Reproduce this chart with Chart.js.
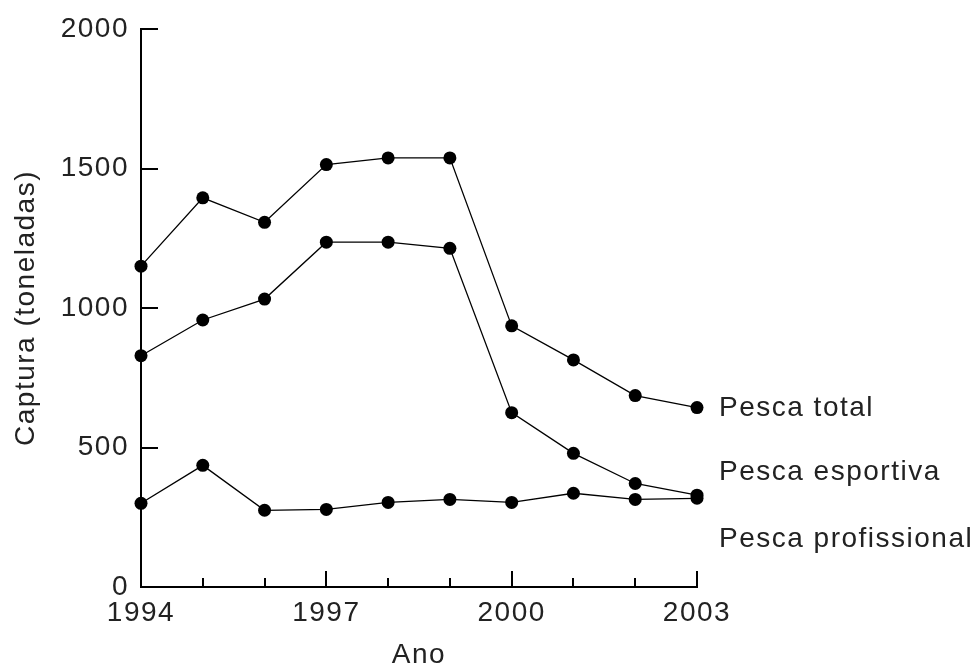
<!DOCTYPE html>
<html>
<head>
<meta charset="utf-8">
<script src="https://cdn.jsdelivr.net/npm/chart.js@4/dist/chart.umd.min.js"></script>
<style>
  html, body { margin: 0; padding: 0; background: #fff; }
  #wrap { width: 979px; height: 670px; }
</style>
</head>
<body>
<div id="wrap"><canvas id="c" width="979" height="670"></canvas></div>
<script>
// ---- data ----
const years = [1994, 1995, 1996, 1997, 1998, 1999, 2000, 2001, 2002, 2003];
const pescaTotal = [1150, 1395, 1307, 1514, 1538, 1538, 936, 814, 686, 643];
const pescaEsportiva = [829, 957, 1032, 1236, 1236, 1214, 625, 479, 371, 329];
const pescaProfissional = [300, 436, 275, 278, 303, 314, 303, 336, 314, 318];
const seriesNames = ['Pesca total', 'Pesca esportiva', 'Pesca profissional'];
const xTickLabels = [1994, 1997, 2000, 2003];
const yTicks = [0, 500, 1000, 1500, 2000];
const yTitle = 'Captura (toneladas)';
const xTitle = 'Ano';
// label anchor values (value space) for the series names
const labelAnchors = [614, 382, 143];

const FONT = { family: '"Liberation Sans", Arial, sans-serif', size: 28 };
const TXT = '#222';

function mkSeries(vals) {
  return years.map((y, i) => ({ x: y, y: vals[i] }));
}
function ds(label, vals) {
  return {
    label, data: mkSeries(vals),
    borderColor: '#000', borderWidth: 1.3,
    pointBackgroundColor: '#000', pointBorderColor: '#000',
    pointRadius: 6.5, pointBorderWidth: 0, tension: 0, fill: false,
    clip: false
  };
}

const spacing = {
  id: 'spacing',
  beforeUpdate(chart) { chart.ctx.letterSpacing = '1.5px'; },
  beforeDraw(chart) { chart.ctx.letterSpacing = '1.5px'; }
};

const decor = {
  id: 'decor',
  afterDraw(chart) {
    const ctx = chart.ctx;
    const xs = chart.scales.x, ys = chart.scales.y;
    const ca = chart.chartArea;
    ctx.save();
    ctx.strokeStyle = '#000';
    ctx.lineWidth = 2;
    ctx.beginPath();
    // y ticks pointing inward
    yTicks.forEach(v => {
      if (v === 0) return;
      const p = Math.round(ys.getPixelForValue(v));
      ctx.moveTo(ca.left, p);
      ctx.lineTo(ca.left + 17, p);
    });
    // x ticks pointing upward
    years.forEach(yr => {
      if (yr === years[0]) return;
      const p = Math.round(xs.getPixelForValue(yr));
      const len = xTickLabels.includes(yr) ? 16 : 9;
      ctx.moveTo(p, ca.bottom);
      ctx.lineTo(p, ca.bottom - len);
    });
    ctx.stroke();
    // series labels
    ctx.letterSpacing = '1.5px';
    ctx.fillStyle = TXT;
    ctx.font = FONT.size + 'px ' + FONT.family;
    ctx.textAlign = 'left';
    ctx.textBaseline = 'alphabetic';
    seriesNames.forEach((n, i) => {
      ctx.fillText(n, ca.right + 22, ys.getPixelForValue(labelAnchors[i]));
    });
    ctx.restore();
  }
};

new Chart(document.getElementById('c'), {
  type: 'line',
  data: {
    datasets: [
      ds(seriesNames[0], pescaTotal),
      ds(seriesNames[1], pescaEsportiva),
      ds(seriesNames[2], pescaProfissional)
    ]
  },
  options: {
    responsive: false,
    animation: false,
    devicePixelRatio: 1,
    layout: { padding: { top: 29, right: 282, left: 0, bottom: 0 } },
    plugins: { legend: { display: false }, tooltip: { enabled: false } },
    scales: {
      x: {
        type: 'linear', min: 1994, max: 2003,
        grid: { display: false, drawTicks: false },
        border: { display: true, color: '#000', width: 2 },
        afterBuildTicks(scale) {
          scale.ticks = years.map(v => ({ value: v }));
        },
        afterFit(scale) { scale.height = 83; },
        ticks: {
          autoSkip: false, maxRotation: 0, padding: 9,
          color: TXT, font: FONT,
          callback: v => xTickLabels.includes(v) ? String(v) : ''
        },
        title: { display: true, text: xTitle, color: TXT, font: FONT, padding: { top: 0, bottom: -2 } }
      },
      y: {
        min: 0, max: 2000,
        grid: { display: false, drawTicks: false },
        border: { display: true, color: '#000', width: 2 },
        afterBuildTicks(scale) {
          scale.ticks = yTicks.map(v => ({ value: v }));
        },
        afterFit(scale) { scale.width = 141; },
        ticks: { padding: 12, color: TXT, font: FONT, callback: v => String(v) },
        title: { display: true, text: yTitle, color: TXT, font: FONT, padding: { top: 9, bottom: 0 } }
      }
    }
  },
  plugins: [spacing, decor]
});
</script>
</body>
</html>
